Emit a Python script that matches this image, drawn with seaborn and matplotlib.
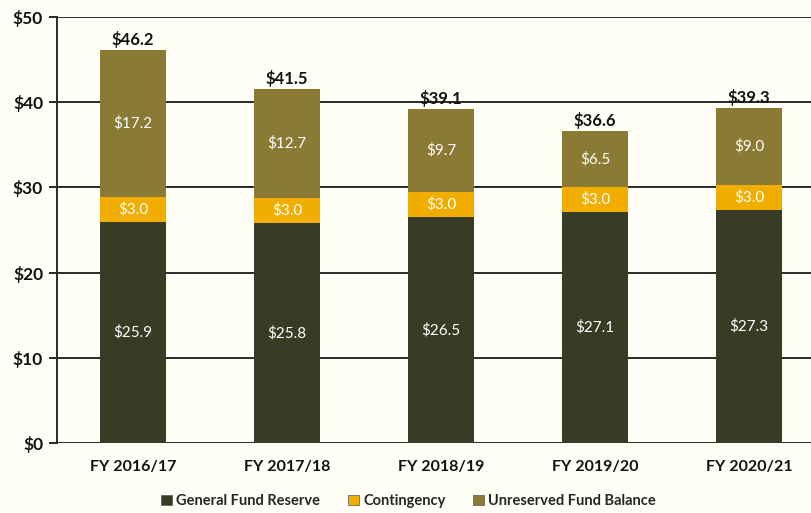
import numpy as np
import pandas as pd
import matplotlib
matplotlib.use("Agg")
import matplotlib.pyplot as plt
import seaborn as sns
from matplotlib.patches import Patch

years = ["FY 2016/17", "FY 2017/18", "FY 2018/19", "FY 2019/20", "FY 2020/21"]
general_reserve = [25.9, 25.8, 26.5, 27.1, 27.3]
contingency = [3.0, 3.0, 3.0, 3.0, 3.0]
unreserved = [17.2, 12.7, 9.7, 6.5, 9.0]
totals = [46.2, 41.5, 39.1, 36.6, 39.3]

series_names = ["General Fund Reserve", "Contingency", "Unreserved Fund Balance"]
colors = ["#383c25", "#f2ae00", "#8b7a33"]
bg = "#fffef7"

sns.set_theme(style="white")
plt.rcParams["font.family"] = ["Lato", "DejaVu Sans"]

df = pd.DataFrame({"year": years, "general": general_reserve,
                   "contingency": contingency, "unreserved": unreserved})
df["base2"] = df["general"] + df["contingency"]

fig = plt.figure(figsize=(8.12, 5.13), dpi=100)
fig.patch.set_facecolor(bg)
ax = fig.add_axes([0.0702, 0.1365, 0.9298, 0.8304])
ax.set_facecolor(bg)

# gridlines behind bars
for v in range(0, 51, 10):
    ax.axhline(v, color="#2a2a2a", lw=1.4, zorder=0)

w = 0.43
sns.barplot(data=df, x="year", y="general", color=colors[0], width=w,
            saturation=1, ax=ax, zorder=2, linewidth=0)
sns.barplot(data=df, x="year", y="contingency", bottom=df["general"], color=colors[1],
            width=w, saturation=1, ax=ax, zorder=2, linewidth=0)
sns.barplot(data=df, x="year", y="unreserved", bottom=df["base2"], color=colors[2],
            width=w, saturation=1, ax=ax, zorder=2, linewidth=0)

for cont, vals in zip(ax.containers, [general_reserve, contingency, unreserved]):
    ax.bar_label(cont, labels=[f"${v:.1f}" for v in vals], label_type="center",
                 color="white", fontsize=11, zorder=3)

for i, t in enumerate(totals):
    ax.text(i, df["base2"][i] + unreserved[i] + 0.25, f"${t:.1f}", ha="center",
            va="bottom", fontsize=12, fontweight="bold", color="#111111", zorder=4)

ax.set_xlim(-0.494, 4.41)
ax.set_ylim(0, 50)
ax.set_yticks(range(0, 51, 10))
ax.set_yticklabels([f"${v}" for v in range(0, 51, 10)], fontsize=12.5,
                   fontweight="bold", color="#111111")
ax.set_xticks(range(len(years)))
ax.set_xticklabels(years, fontsize=11.5, fontweight="bold", color="#111111")
ax.tick_params(axis="y", length=6, width=1.4, color="#2a2a2a", left=True, pad=4)
ax.tick_params(axis="x", length=0, pad=12)
ax.set_xlabel("")
ax.set_ylabel("")
for s in ["top", "right", "bottom"]:
    ax.spines[s].set_visible(False)
ax.spines["left"].set_color("#2a2a2a")
ax.spines["left"].set_linewidth(1.4)

handles = [Patch(facecolor=c, edgecolor="#555555", linewidth=0.5) for c in colors]
fig.legend(handles, series_names, loc="center", bbox_to_anchor=(0.503, 0.023),
           ncol=3, frameon=False, handlelength=0.75, handleheight=0.75,
           handletextpad=0.3, columnspacing=1.9,
           prop={"weight": "bold", "size": 10.5})

fig.savefig("out.png", dpi=100, facecolor=bg)
